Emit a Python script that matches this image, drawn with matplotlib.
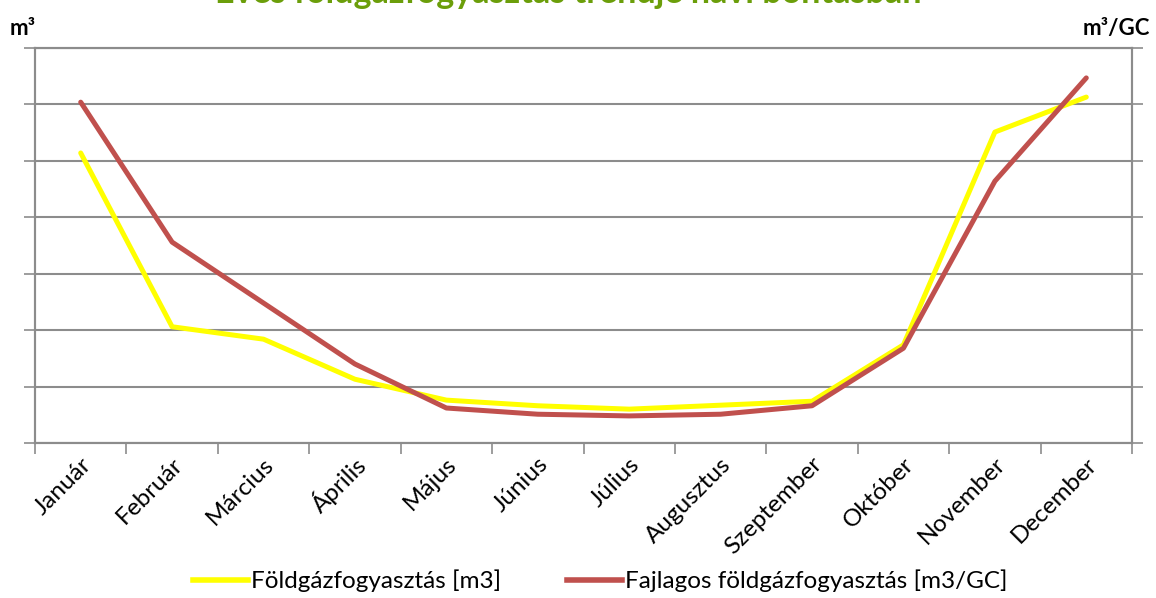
import numpy as np
import matplotlib.pyplot as plt
from matplotlib.lines import Line2D
from matplotlib.transforms import ScaledTranslation

plt.rcParams['font.family'] = ['Lato', 'DejaVu Sans']

months = ['Január', 'Február', 'Március', 'Április', 'Május', 'Június',
          'Július', 'Augusztus', 'Szeptember', 'Október', 'November', 'December']

# values in grid units (axis values are hidden in the original)
gas_m3 = [5.14, 2.06, 1.84, 1.13, 0.76, 0.66, 0.60, 0.67, 0.74, 1.74, 5.51, 6.13]
gas_per_gc = [6.04, 3.56, 2.48, 1.40, 0.62, 0.51, 0.48, 0.51, 0.66, 1.68, 4.64, 6.47]

grid_col = '#8c8c8c'
yellow = '#FFFF00'
red = '#C0504D'

fig = plt.figure(figsize=(11.56, 5.98), dpi=100)
ax = fig.add_axes([35 / 1156, 155 / 598, 1097 / 1156, 395 / 598])
ax2 = ax.twinx()

x = np.arange(len(months))
ax.plot(x, gas_m3, color=yellow, lw=3.6, solid_capstyle='round', zorder=3)
ax2.plot(x, gas_per_gc, color=red, lw=3.6, solid_capstyle='round', zorder=3)

for a in (ax, ax2):
    a.set_ylim(0, 7)
    a.set_xlim(-0.5, 11.5)
    a.set_yticks(np.arange(0, 8))
    a.set_yticklabels([])
    a.tick_params(axis='y', length=8, width=1.2, color=grid_col)
    for s in a.spines.values():
        s.set_color(grid_col)
        s.set_linewidth(1.5)

ax.yaxis.grid(True, color=grid_col, lw=1.5)
ax.set_axisbelow(True)

ax.set_xticks(np.arange(-0.5, 12, 1))
ax.set_xticklabels([])
ax.tick_params(axis='x', which='major', length=8, width=1.2, color=grid_col)
ax.set_xticks(x, minor=True)
ax.set_xticklabels(months, minor=True, rotation=45, ha='right', va='center',
                   rotation_mode='anchor', fontsize=17.5)
ax.tick_params(axis='x', which='minor', length=0, pad=13)
shift = ScaledTranslation(0.07, 0, fig.dpi_scale_trans)
for lbl in ax.get_xticklabels(minor=True):
    lbl.set_transform(lbl.get_transform() + shift)
ax2.tick_params(axis='x', which='both', length=0)

fig.text(568 / 1156, 1 - 3 / 598, 'Éves földgázfogyasztás trendje havi bontásban',
         ha='center', va='baseline', fontsize=24.5, fontweight='bold', color='#6B9E0A')
fig.text(10 / 1156, 1 - 35 / 598, 'm³', ha='left', va='baseline',
         fontsize=16, fontweight='bold')
fig.text(1150 / 1156, 1 - 35 / 598, 'm³/GC', ha='right', va='baseline',
         fontsize=16, fontweight='bold')

handles = [Line2D([], [], color=yellow, lw=4),
           Line2D([], [], color=red, lw=4)]
fig.legend(handles, ['Földgázfogyasztás [m3]', 'Fajlagos földgázfogyasztás [m3/GC]'],
           loc='lower center', bbox_to_anchor=(0.519, -0.027), ncol=2, frameon=False,
           fontsize=17.5, handlelength=2.3, handletextpad=0.1, columnspacing=2.7)

fig.savefig('out.png', dpi=100)
